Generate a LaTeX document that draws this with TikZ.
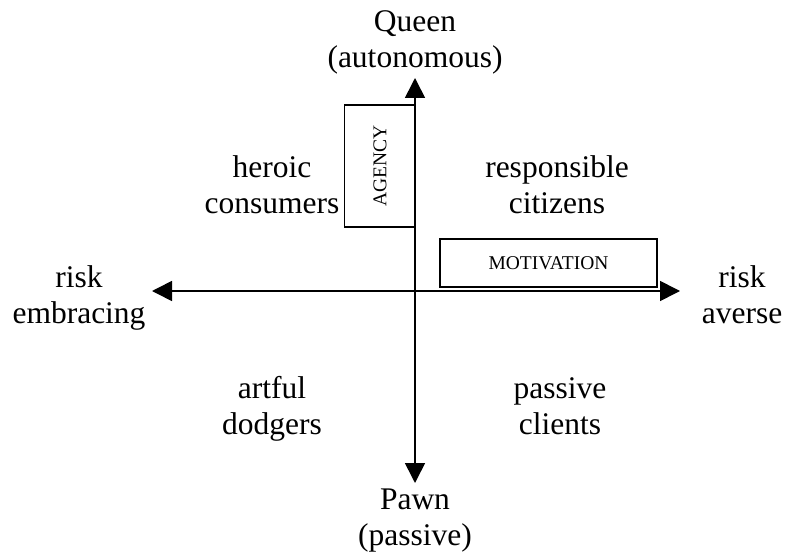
\documentclass[tikz,border=0pt]{standalone}
\usepackage{fontspec}
\setmainfont{Liberation Serif}
\usetikzlibrary{arrows.meta,positioning}

\newcommand{\twolines}[2]{#1\strut\\#2\strut}

\begin{document}
\begin{tikzpicture}[x=1pt,y=-1pt,>={Triangle[length=20pt,width=20pt]},line width=1.6pt]
  \tikzstyle{quad}=[align=center,font=\fontsize{31.5}{36.5}\selectfont,inner sep=0pt]
  \tikzstyle{dimbox}=[draw,line width=1.6pt,font=\fontsize{19.5}{22}\selectfont]

  \useasboundingbox (0,0) rectangle (797,553);

  % axis ends
  \coordinate (top) at (415,78);
  \coordinate (bottom) at (415,483);
  \coordinate (left) at (152,291);
  \coordinate (right) at (680,291);

  \node[quad] (queen) at (415,42) {\twolines{Queen}{(autonomous)}};
  \node[quad] (pawn) at (415,520) {\twolines{Pawn}{(passive)}};
  \node[quad] (embrace) at (79,298) {\twolines{risk}{embracing}};
  \node[quad] (averse) at (742,298) {\twolines{risk}{averse}};

  \node[quad] (heroic) at (272,188) {\twolines{heroic}{consumers}};
  \node[quad] (citizens) at (557,188) {\twolines{responsible}{citizens}};
  \node[quad] (dodgers) at (272,409) {\twolines{artful}{dodgers}};
  \node[quad] (clients) at (560,409) {\twolines{passive}{clients}};

  \node[dimbox,minimum width=122pt,minimum height=71pt,rotate=90] (agency) at (380,166) {AGENCY};
  \node[dimbox,minimum width=217pt,minimum height=48pt] (motivation) at (548.5,263) {MOTIVATION};

  \draw[<->] (left) -- (right);
  \draw[<->] (bottom) -- (top);
\end{tikzpicture}
\end{document}
